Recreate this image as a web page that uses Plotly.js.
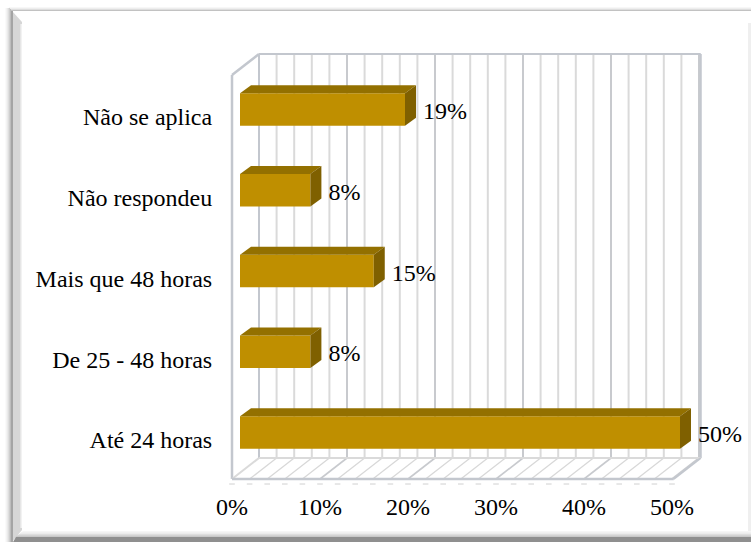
<!DOCTYPE html>
<html>
<head>
<meta charset="utf-8">
<script src="https://cdn.plot.ly/plotly-3.0.1.min.js"></script>
<style>html,body{margin:0;padding:0;background:#fff}#chart{width:751px;height:542px}</style>
</head>
<body>
<div id="chart"></div>
<script>
// ---- data ----
const categories = ['Até 24 horas', 'De 25 - 48 horas', 'Mais que 48 horas', 'Não respondeu', 'Não se aplica'];
const values = [50, 8, 15.2, 8, 18.75];
const valueLabels = ['50%', '8%', '15%', '8%', '19%'];
const xTicks = [0, 10, 20, 30, 40, 50];
const xTickLabels = ['0%', '10%', '20%', '30%', '40%', '50%'];

// ---- plot geometry (pixels) ----
const W = 751, H = 542;
const L = 225, R = 6, T = 40, B = 52;
const pxPerX = 8.8, pxPerY = 80.75, x0px = 232, y0px = 440;
const xr = [(L - x0px) / pxPerX, (W - R - x0px) / pxPerX];
const yr = [(y0px - (H - B)) / pxPerY, (y0px - T) / pxPerY];
const dx = p => p / pxPerX, dy = p => p / pxPerY;

const FRONT = '#BF8F00', TOP = '#937000', SIDE = '#7F6000';
const WALL = '#C3C7CE', GRID = '#DADADA', GRID10 = '#C8CACE', FLOOR = '#D8D8D8';

// 3-D chart box: offsets in pixels of the back wall against the front plane
const depthX = 27, depthY = 21;
const floorFront = dy(y0px - 479), floorBack = floorFront + dy(depthY);
const topFront = dy(y0px - 75), topBack = dy(y0px - 54);
const xMax = 50.2;
const barBase = dx(8), barLift = dy(7.5), barH = 32.5 / pxPerY;
const faceX = dx(11), faceY = dy(8);

const shapes = [];
const seg = (x0, y0, x1, y1, color, width) => shapes.push({type:'line', xref:'x', yref:'y', x0, y0, x1, y1, layer:'below', line:{color, width}});

// back wall and floor grid lines every 2 %
for (let v = 2; v < xMax; v += 2) {
  const major = v % 10 === 0;
  seg(v + dx(depthX), floorBack, v + dx(depthX), topBack, major ? GRID10 : GRID, 2);
  seg(v, floorFront, v + dx(depthX), floorBack, major ? GRID10 : FLOOR, major ? 1.6 : 1.3);
}
// box edges
seg(0, floorFront, 0, topFront, WALL, 2.5);
seg(0, topFront, dx(depthX), topBack, WALL, 2.5);
seg(dx(depthX), topBack, xMax + dx(depthX), topBack, WALL, 2);
seg(xMax + dx(depthX), topBack, xMax + dx(depthX), floorBack, WALL, 2);
seg(dx(depthX), floorBack, dx(depthX), topBack, WALL, 2);
seg(dx(depthX), floorBack, xMax + dx(depthX), floorBack, GRID, 2);
seg(0, floorFront, dx(depthX), floorBack, GRID, 2);
seg(0, floorFront, xMax, floorFront, WALL, 2.5);
seg(xMax, floorFront, xMax + dx(depthX), floorBack, WALL, 2);

// picture frame, paper coordinates from pixels
const px = x => (x - L) / (W - L - R);
const py = y => 1 - (y - T) / (H - T - B);
const rect = (x0, y0, x1, y1, color) => shapes.push({type:'rect', xref:'paper', yref:'paper', x0:px(x0), x1:px(x1), y0:py(y0), y1:py(y1), layer:'below', line:{width:0}, fillcolor:color});
const poly = (pts, color) => shapes.push({type:'path', xref:'paper', yref:'paper', layer:'below', line:{width:0}, fillcolor:color,
  path:'M' + pts.map(p => px(p[0]) + ',' + py(p[1])).join('L') + 'Z'});
// outer soft shadow
['#FAFAFA','#F3F3F3','#EAEAEA','#DEDEDE','#CFCFCF','#BDBDBD'].forEach((c,i) => { rect(5+i, 8, 6+i, H, c); });
['#F7F7F7','#EEEEEE','#DEDEDE'].forEach((c,i) => { rect(9+i, 7+i, W, 8+i, c); });
rect(11, 10, W, 11, '#C2C2C2');
// left bevel
poly([[12,11],[22,22],[22,530],[12,H]], '#D6D6D6');
rect(11, 11, 13, H, '#A4A4A4');
rect(20, 24, 21, 528, '#E6E6E6');
rect(21, 24, 22, 528, '#F2F2F2');
// right strip
rect(748, 23, W, 533, '#EFEFEF');
// bottom bevel
['#F6F6F6','#ECECEC','#DEDEDE','#C8C8C8'].forEach((c,i) => { poly([[23-i*2,531+i*1.5],[W,531+i*1.5],[W,533+i*1.5],[21-i*2,533+i*1.5]], c); });
poly([[16,537],[W,537],[W,H],[13,H]], '#8F8F8F');

const traces = [];
// floor tick dashes
traces.push({type:'scatter', mode:'markers', x:Array.from({length:26},(_, i)=>i*2), y:Array(26).fill(dy(y0px-484)),
  marker:{symbol:'line-ew', size:4, line:{color:'#D0D0D0', width:1}}, hoverinfo:'skip', showlegend:false});
// top and side faces of the bars
values.forEach((v, i) => {
  const yb = i + barLift - barH / 2, yt = i + barLift + barH / 2, x1 = barBase + v;
  traces.push({type:'scatter', mode:'lines', fill:'toself', fillcolor:TOP, line:{width:0, color:TOP},
    x:[barBase, x1, x1 + faceX, barBase + faceX, barBase], y:[yt, yt, yt + faceY, yt + faceY, yt], hoverinfo:'skip', showlegend:false});
  traces.push({type:'scatter', mode:'lines', fill:'toself', fillcolor:SIDE, line:{width:0, color:SIDE},
    x:[x1, x1 + faceX, x1 + faceX, x1, x1], y:[yb, yb + faceY, yt + faceY, yt, yb], hoverinfo:'skip', showlegend:false});
});
// front faces
traces.push({type:'bar', orientation:'h', base:barBase, x:values, y:categories.map((c, i) => i + barLift), width:barH,
  marker:{color:FRONT, line:{width:0}}, hoverinfo:'skip', showlegend:false});
// value labels
traces.push({type:'scatter', mode:'text', x:values.map(v => v + barBase + dx(18)), y:categories.map((c, i) => i + dy(4)),
  text:valueLabels, textposition:'middle right', textfont:{family:'"Liberation Serif", serif', size:24, color:'#000'}, hoverinfo:'skip', showlegend:false});

Plotly.newPlot('chart', traces, {
  width:W, height:H, margin:{l:L, r:R, t:T, b:B, pad:0}, paper_bgcolor:'#fff', plot_bgcolor:'rgba(0,0,0,0)',
  barmode:'overlay', showlegend:false, shapes,
  xaxis:{range:xr, tickmode:'array', tickvals:xTicks, ticktext:xTickLabels, showgrid:false, zeroline:false, showline:false, ticks:'',
    tickfont:{family:'"Liberation Serif", serif', size:24, color:'#000'}, fixedrange:true},
  yaxis:{range:yr, tickmode:'array', tickvals:categories.map((c, i) => i), ticktext:categories, showgrid:false, zeroline:false, showline:false,
    ticks:'outside', ticklen:7, tickcolor:'rgba(0,0,0,0)', tickfont:{family:'"Liberation Serif", serif', size:24, color:'#000'}, fixedrange:true}
}, {displayModeBar:false, staticPlot:true});
</script>
</body>
</html>
